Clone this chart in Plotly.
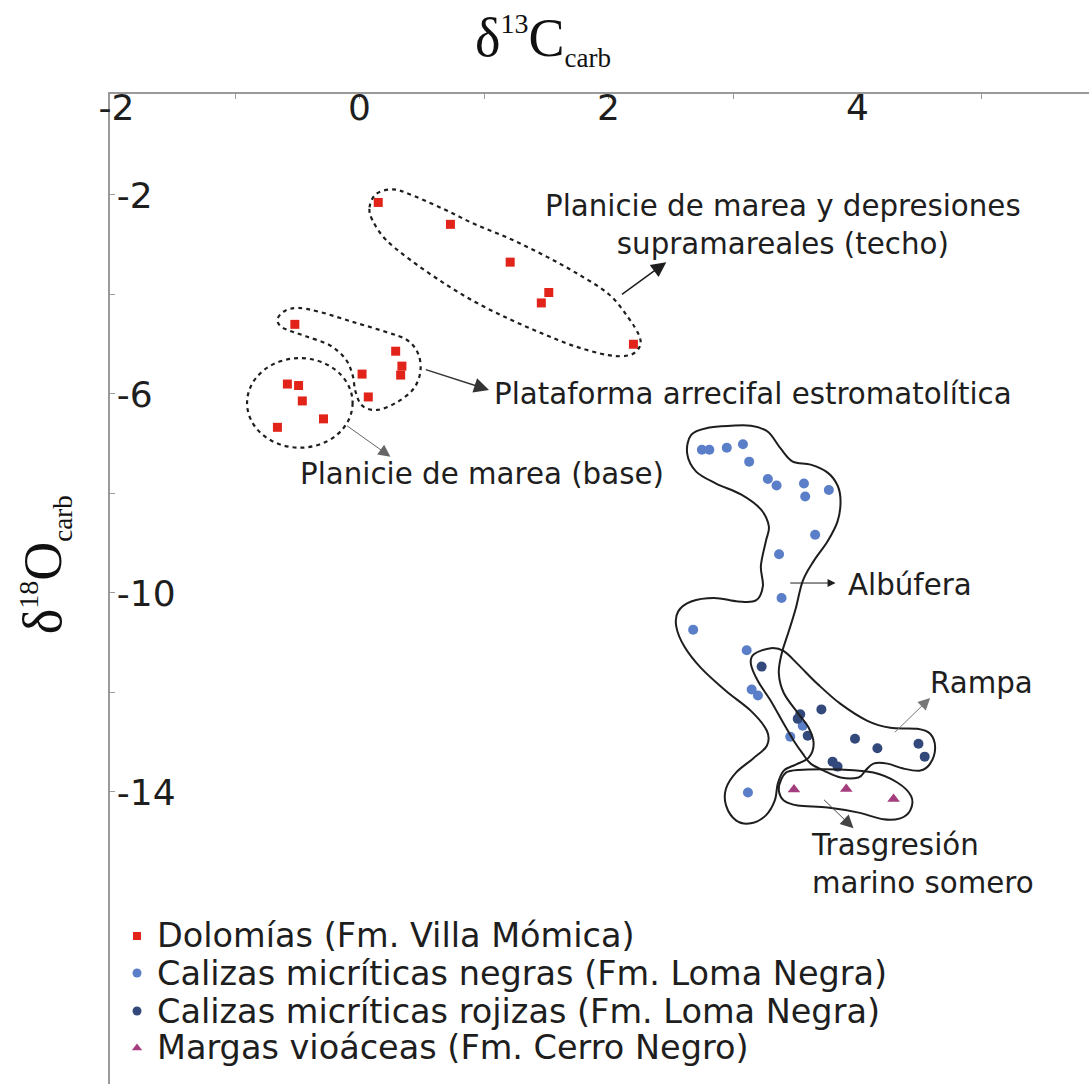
import plotly.graph_objects as go

# ---- isotope data: d13C (x) and d18O (y), per cent VPDB ----
dol_c = [0.15, 0.73, 1.21, 1.52, 1.46, 2.20, -0.52, 0.29, 0.34, 0.33, 0.02, 0.07,
         -0.58, -0.49, -0.46, -0.29, -0.66]
dol_o = [-2.15, -2.59, -3.35, -3.96, -4.17, -5.00, -4.60, -5.14, -5.44, -5.62, -5.60, -6.06,
         -5.80, -5.83, -6.14, -6.50, -6.67]

neg_c = [2.75, 2.81, 2.95, 3.08, 3.13, 3.28, 3.35, 3.57, 3.58, 3.77, 3.66, 3.37, 3.39,
         2.68, 3.11, 3.15, 3.20, 3.56, 3.46, 3.12]
neg_o = [-7.12, -7.12, -7.08, -7.01, -7.36, -7.71, -7.84, -7.80, -8.06, -7.93, -8.83, -9.22,
         -10.10, -10.74, -11.15, -11.94, -12.06, -12.67, -12.89, -14.01]

roj_c = [3.23, 3.71, 3.54, 3.52, 3.60, 3.98, 4.16, 4.49, 4.54, 3.80, 3.84]
roj_o = [-11.48, -12.34, -12.44, -12.53, -12.87, -12.93, -13.12, -13.03, -13.29, -13.39, -13.49]

mar_c = [3.49, 3.91, 4.29]
mar_o = [-13.95, -13.94, -14.14]

series_names = [
    "Dolomías (Fm. Villa Mómica)",
    "Calizas micríticas negras (Fm. Loma Negra)",
    "Calizas micríticas rojizas (Fm. Loma Negra)",
    "Margas vioáceas (Fm. Cerro Negro)",
]

x_ticks = [-2, 0, 2, 4]
x_ticktext = ["\u00a0-2", "0", "2", "4"]
x_minor = [-1, 1, 3, 5]
y_ticks = [-2, -6, -10, -14]
y_ticktext = ["-2", "-6", "-10", "-14"]
y_minor = [-4, -8, -12]

# ---- environment outlines (same units as the data) ----
techo_c = [0.08, 0.128, 0.24, 0.368, 0.664, 0.928, 1.20, 1.464, 1.728, 2.00, 2.16, 2.248,
           2.248, 2.168, 2.00, 1.728, 1.464, 1.20, 0.928, 0.664, 0.40, 0.208, 0.104]
techo_o = [-2.25, -1.99, -1.89, -1.95, -2.27, -2.59, -2.87, -3.19, -3.55, -3.99, -4.47, -4.84,
           -5.06, -5.22, -5.22, -5.04, -4.78, -4.49, -4.15, -3.75, -3.29, -2.89, -2.51]

plat_c = [-0.656, -0.60, -0.496, -0.32, -0.056, 0.208, 0.384, 0.472, 0.488, 0.432, 0.304,
          0.144, 0.024, -0.032, -0.056, -0.112, -0.24, -0.432, -0.592, -0.648]
plat_o = [-4.47, -4.33, -4.27, -4.35, -4.55, -4.75, -4.92, -5.20, -5.56, -5.90, -6.16,
          -6.32, -6.24, -5.96, -5.62, -5.30, -5.02, -4.84, -4.70, -4.60]

base_c = [-0.904, -0.056]
base_o = [-7.08, -5.28]

alb_c = [2.664, 2.80, 2.984, 3.144, 3.28, 3.384, 3.48, 3.624, 3.76, 3.84, 3.864, 3.84, 3.76,
         3.648, 3.56, 3.504, 3.448, 3.392, 3.368, 3.408, 3.52, 3.608, 3.648, 3.608, 3.504,
         3.408, 3.36, 3.336, 3.264, 3.144, 3.024, 2.944, 2.944, 3.024, 3.16, 3.272, 3.272,
         3.144, 2.944, 2.744, 2.608, 2.544, 2.56, 2.664, 2.848, 3.04, 3.184, 3.24, 3.224,
         3.264, 3.288, 3.224, 3.064, 2.864, 2.704, 2.632]
alb_o = [-6.82, -6.68, -6.64, -6.64, -6.76, -7.10, -7.36, -7.42, -7.58, -7.84, -8.16, -8.56,
         -8.96, -9.36, -9.76, -10.31, -10.77, -11.21, -11.61, -12.01, -12.41, -12.71, -13.03,
         -13.31, -13.45, -13.57, -13.83, -14.17, -14.47, -14.63, -14.57, -14.27, -13.93,
         -13.61, -13.33, -13.07, -12.77, -12.37, -11.97, -11.51, -11.07, -10.67, -10.37,
         -10.17, -10.10, -10.17, -10.15, -9.86, -9.46, -8.96, -8.66, -8.32, -8.02, -7.80,
         -7.56, -7.20]

rampa_c = [3.168, 3.304, 3.408, 3.52, 3.68, 3.864, 4.08, 4.264, 4.48, 4.584, 4.624, 4.584,
           4.504, 4.368, 4.24, 4.128, 4.064, 4.008, 3.864, 3.728, 3.624, 3.56, 3.488, 3.408,
           3.304, 3.20, 3.144]
rampa_o = [-11.23, -11.11, -11.17, -11.43, -11.83, -12.23, -12.57, -12.71, -12.73, -12.83,
           -13.11, -13.43, -13.57, -13.53, -13.43, -13.43, -13.57, -13.71, -13.71, -13.57,
           -13.43, -13.23, -12.97, -12.63, -12.17, -11.77, -11.43]

trasg_c = [3.384, 3.44, 3.60, 3.864, 4.128, 4.32, 4.432, 4.424, 4.344, 4.208, 4.00, 3.76,
           3.52, 3.408, 3.368]
trasg_o = [-13.77, -13.59, -13.55, -13.55, -13.61, -13.81, -14.09, -14.37, -14.53, -14.55,
           -14.41, -14.31, -14.27, -14.17, -13.97]

RED = "#e2231a"
LIGHT = "#5b7ec8"
DARK = "#34497b"
PURPLE = "#a43d7e"
INK = "#1e1e1e"
SANS = "DejaVu Sans"
SERIF = "Liberation Serif"


def closed_spline(xs, ys):
    """Closed Catmull-Rom curve through the vertices, as an SVG path."""
    n = len(xs)
    pts = list(zip(xs, ys))
    d = "M %.4f,%.4f" % pts[0]
    for i in range(n):
        p0, p1, p2, p3 = pts[(i - 1) % n], pts[i], pts[(i + 1) % n], pts[(i + 2) % n]
        c1 = (p1[0] + (p2[0] - p0[0]) / 6, p1[1] + (p2[1] - p0[1]) / 6)
        c2 = (p2[0] - (p3[0] - p1[0]) / 6, p2[1] - (p3[1] - p1[1]) / 6)
        d += " C %.4f,%.4f %.4f,%.4f %.4f,%.4f" % (c1 + c2 + p2)
    return d + " Z"


fig = go.Figure()

fig.add_trace(go.Scatter(x=dol_c, y=dol_o, mode="markers", name=series_names[0],
                         marker=dict(symbol="square", size=9, color=RED)))
fig.add_trace(go.Scatter(x=neg_c, y=neg_o, mode="markers", name=series_names[1],
                         marker=dict(symbol="circle", size=10, color=LIGHT)))
fig.add_trace(go.Scatter(x=roj_c, y=roj_o, mode="markers", name=series_names[2],
                         marker=dict(symbol="circle", size=10, color=DARK)))
fig.add_trace(go.Scatter(x=mar_c, y=mar_o, mode="markers", name=series_names[3],
                         marker=dict(symbol="triangle-up", size=11, color=PURPLE)))

# legend keys on an overlay axis spanning the plot area
key_x = [0.0276] * 4
key_y = [0.1495, 0.1121, 0.0737, 0.0364]
key_style = [("square", 8, RED), ("circle", 9, LIGHT), ("circle", 9, DARK),
             ("triangle-up", 9, PURPLE)]
for (sym, sz, col), kx, ky in zip(key_style, key_x, key_y):
    fig.add_trace(go.Scatter(x=[kx], y=[ky], xaxis="x2", yaxis="y2", mode="markers",
                             marker=dict(symbol=sym, size=sz, color=col),
                             showlegend=False, hoverinfo="skip"))

dotted = dict(color=INK, width=2.2, dash="4px,4px")
solid = dict(color=INK, width=2)
fig.add_shape(type="path", path=closed_spline(techo_c, techo_o), xref="x", yref="y", line=dotted)
fig.add_shape(type="path", path=closed_spline(plat_c, plat_o), xref="x", yref="y", line=dotted)
fig.add_shape(type="circle", x0=base_c[0], x1=base_c[1], y0=base_o[0], y1=base_o[1],
              xref="x", yref="y", line=dotted)
fig.add_shape(type="path", path=closed_spline(alb_c, alb_o), xref="x", yref="y", line=solid)
fig.add_shape(type="path", path=closed_spline(rampa_c, rampa_o), xref="x", yref="y", line=solid)
fig.add_shape(type="path", path=closed_spline(trasg_c, trasg_o), xref="x", yref="y", line=solid)

# environment labels
labels = [
    ("Planicie de marea y depresiones<br>supramareales (techo)", 3.40, -2.60, "center"),
    ("Plataforma arrecifal estromatolítica", 1.064, -6.0, "left"),
    ("Planicie de marea (base)", 0.984, -7.60, "center"),
    ("Albúfera", 3.904, -9.83, "left"),
    ("Rampa", 4.568, -11.81, "left"),
    ("Trasgresión<br>marino somero", 3.608, -15.45, "left"),
]
for txt, lx, ly, anc in labels:
    fig.add_annotation(text=txt, x=lx, y=ly, xref="x", yref="y", xanchor=anc, yanchor="middle",
                       align=anc, showarrow=False, font=dict(family=SANS, size=29.3, color=INK))

# pointer arrows: (tail x, tail y, head x, head y, colour, width, size)
arrows = [
    (2.096, -4.02, 2.464, -3.35, INK, 1.5, 2.0),
    (0.52, -5.50, 1.04, -5.92, "#333333", 1.5, 2.0),
    (-0.112, -6.62, 0.248, -7.26, "#666666", 1.0, 2.4),
    (3.448, -9.80, 3.824, -9.80, INK, 1.0, 1.6),
    (4.288, -12.83, 4.584, -12.11, "#777777", 1.0, 2.4),
    (3.72, -14.13, 3.968, -14.73, "#444444", 1.0, 2.6),
]
for tx, ty, hx, hy, col, w, s in arrows:
    fig.add_annotation(x=hx, y=hy, ax=tx, ay=ty, xref="x", yref="y", axref="x", ayref="y",
                       text="", showarrow=True, arrowhead=2, arrowsize=s, arrowwidth=w,
                       arrowcolor=col, standoff=0, startstandoff=0)

# legend text
for name, ky in zip(series_names, key_y):
    fig.add_annotation(text=name, x=0.046, y=ky, xref="paper", yref="paper",
                       xanchor="left", yanchor="middle", showarrow=False,
                       font=dict(family=SANS, size=33.5, color=INK))

# axis titles
fig.add_annotation(text="δ<sup><span style='font-size:28px'>13</span></sup>C"
                        "<sub><span style='font-size:27px'>carb</span></sub>",
                   x=0.4423, y=1.0545, xref="paper", yref="paper", xanchor="center",
                   yanchor="middle", showarrow=False, font=dict(family=SERIF, size=54, color="#111"))
fig.add_annotation(text="δ<sup><span style='font-size:28px'>18</span></sup>O"
                        "<sub><span style='font-size:27px'>carb</span></sub>",
                   x=-0.0664, y=0.525, xref="paper", yref="paper", xanchor="center",
                   yanchor="middle", textangle=-90, showarrow=False,
                   font=dict(family=SERIF, size=54, color="#111"))

axis_common = dict(showgrid=False, zeroline=False, showline=True, linecolor="#9a9a9a",
                   linewidth=2, ticks="inside", ticklen=5, tickwidth=1.2, tickcolor="#9a9a9a",
                   ticklabelposition="inside", ticklabeloverflow="allow",
                   tickfont=dict(family=SANS, size=36, color=INK))

fig.update_layout(
    width=1089, height=1084,
    margin=dict(l=110, r=0, t=94, b=0, pad=0),
    paper_bgcolor="white", plot_bgcolor="white",
    showlegend=False,
    xaxis=dict(side="top", range=[-2.005, 5.86], tickmode="array", tickvals=x_ticks,
               ticktext=x_ticktext,
               minor=dict(tickmode="array", tickvals=x_minor, ticks="inside", ticklen=5,
                          tickwidth=1.2, tickcolor="#9a9a9a", showgrid=False),
               **axis_common),
    yaxis=dict(range=[-19.87, 0.03], tickmode="array", tickvals=y_ticks,
               ticktext=y_ticktext, ticklabelstandoff=6,
               minor=dict(tickmode="array", tickvals=y_minor, ticks="inside", ticklen=5,
                          tickwidth=1.2, tickcolor="#9a9a9a", showgrid=False),
               **axis_common),
    xaxis2=dict(overlaying="x", range=[0, 1], visible=False),
    yaxis2=dict(overlaying="y", range=[0, 1], visible=False),
)

fig.write_html("out.html")
